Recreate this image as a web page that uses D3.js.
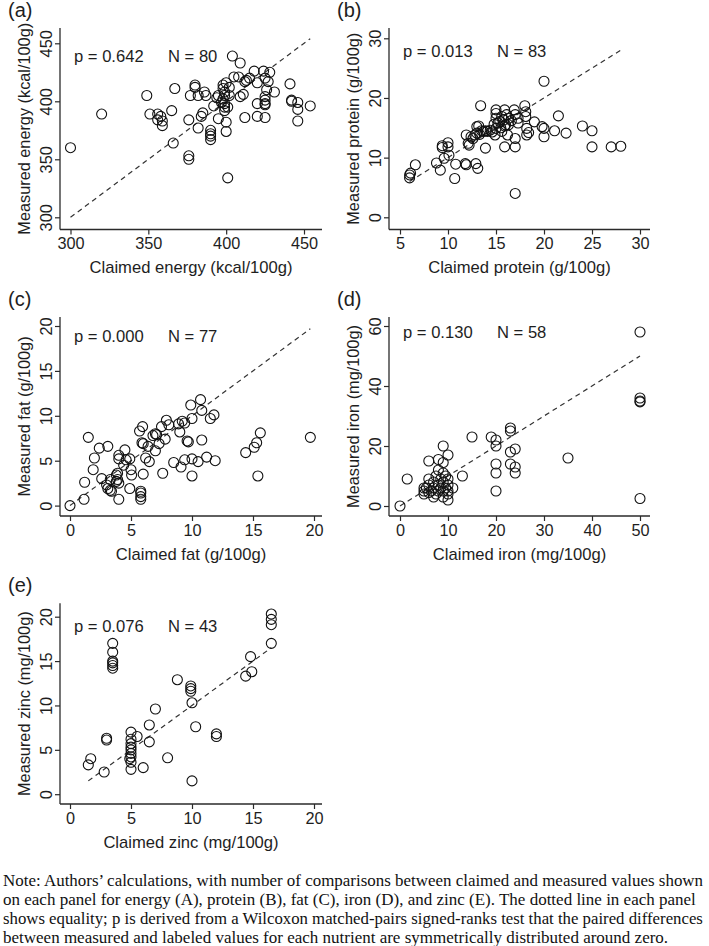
<!DOCTYPE html>
<html><head><meta charset="utf-8">
<script src="https://cdn.jsdelivr.net/npm/d3@7"></script>
<style>
body{margin:0;background:#fff}
svg{display:block}
text{font-family:"Liberation Sans",Arial,sans-serif;fill:#1e1e1e}
.note{font-family:"Liberation Serif","Times New Roman",serif;fill:#111}
</style>
</head><body>
<svg id="chart" width="709" height="946"></svg>
<script>
// ---------- data: [claimed, measured] ----------
const energyPoints = [[300,360],[320,389],[349,405],[351,389],[356,389],[358,387],[356,384],[359,383],[359,379],[365,392],[367,411],[366,364],[376,384],[380,414],[380,412],[377,405],[382,405],[386,408],[387,405],[385,390],[384,387],[382,377],[390,375],[390,372],[390,370],[390,367],[376,353],[376,350],[392,396],[394,403],[395,385],[398,414],[398,411],[399,408],[399,405],[398,402],[399,398],[399,395],[399,392],[400,416],[400,382],[400,374],[401,334],[404,439],[409,433],[405,421],[408,421],[409,404],[411,406],[412,386],[412,417],[415,420],[418,426],[420,416],[420,398],[420,387],[424,426],[425,420],[428,425],[426,410],[425,401],[425,398],[425,397],[425,386],[431,408],[441,415],[442,401],[442,400],[446,399],[446,393],[446,383],[454,396],[427,417],[413,418],[395,405],[402,405],[401,395],[402,412],[397,399],[425,404]];
const proteinPoints = [[6,7.1],[6,6.6],[6.1,7.4],[6.6,8.8],[8.8,9.1],[9.2,7.9],[9.4,11.7],[9.4,12],[9.6,9.9],[10,12.5],[10,11.8],[10.1,10.4],[10.8,8.9],[10.7,6.5],[11.8,9.0],[11.9,8.8],[11.9,13.8],[12.1,12.4],[12.2,12.1],[12.4,13.5],[12.8,13.8],[13,14.1],[12.9,9.0],[13.1,8.2],[13,15.2],[13.2,15.3],[13.4,18.7],[13.5,14.5],[13.7,14.4],[13.9,14.5],[14.1,14.4],[13.9,11.6],[14.4,14.6],[15,18],[15,17.4],[15,16.6],[15,14.9],[14.9,13.8],[15.2,15.8],[15.4,16.1],[15.6,16.9],[15.8,16.3],[15.9,15.3],[15.9,18],[15.9,11.8],[16.2,13.8],[16,15.5],[16.3,15.5],[16.3,16.6],[16.9,18],[17,17.2],[17,13.2],[17,11.8],[17,4.0],[18,18.7],[18.1,17.7],[18.1,16.9],[18.2,14.9],[18.4,14.2],[18.2,13.8],[19,16],[19.8,15.2],[20,22.8],[20,14.9],[20,13.5],[21.1,14.5],[21.5,17],[22.3,14.1],[24,15.3],[25,14.5],[25,11.8],[27,11.8],[28,11.9],[17.3,16.6],[17.3,15.8],[16.6,16.2],[15.5,15],[14.8,15.6],[16.1,17.2],[12.6,13.2],[13.3,13.9],[15.6,14.4],[14.6,14.3]];
const fatPoints = [[1.5,7.6],[2,5.3],[2.4,6.4],[3.1,6.6],[4,5.6],[4,5.2],[4.5,6.2],[5.7,8.3],[5.95,8.8],[5.9,7.0],[6,6.9],[6.2,5.3],[6.4,6.6],[6.8,7.8],[7,8],[7.1,7.9],[7,6.1],[7.3,6.9],[7.5,8.8],[7.8,7.4],[7.9,9.5],[8.1,9.0],[8.9,9.1],[9.0,8.2],[9.2,9.4],[9.4,9.2],[9.6,7.2],[9.7,7.1],[10,9.7],[9.9,11.2],[10.7,11.8],[10.8,10.6],[10.8,7.3],[11.5,9.7],[11.8,10.1],[11.2,5.4],[9.4,5.1],[10,5.2],[10.5,4.9],[8.5,4.8],[11.9,5.0],[14.4,5.9],[15.1,6.5],[15.3,7.0],[15.6,8.1],[19.7,7.6],[4.9,5.2],[0,0],[1.15,0.7],[1.2,2.6],[1.9,4.0],[2.6,3.0],[3.0,2.3],[3.1,1.9],[3.3,1.7],[3.4,1.6],[3.3,2.9],[3.8,3.4],[3.9,2.9],[3.8,2.7],[4,2.5],[3.9,3.6],[4,0.7],[4.4,4.5],[4.6,5.1],[5,4],[5.05,3.4],[4.9,1.9],[5.8,1.4],[5.8,1.0],[5.8,0.7],[5.8,1.6],[6,3.5],[6.5,4.9],[7.6,3.6],[9.1,4.3],[10,3.3],[15.4,3.3]];
const ironPoints = [[0,0],[1.5,9],[5,4],[5,5],[5.5,6],[6,4.5],[6,7],[6.5,5],[7,6],[7,8],[7.5,4],[7.5,10],[8,5],[8,7],[8,12],[8.5,6],[8.5,9],[9,3],[9,5],[9,8],[9,11],[9.5,6],[9.5,10],[10,4],[10,7],[10,9],[10,5],[11,6],[10,17],[8,15.5],[9,14.5],[9,20],[6,15],[13,10],[15,23],[19,23],[20,22],[20,20],[20,14],[20,11],[20,5],[23,26],[23,25],[23,18],[24,19],[23,14],[24,13],[24,11],[35,16],[50,58],[50,36],[50,35],[50,34.7],[50,2.5],[5,6],[7,3],[6,9],[10,2]];
const zincPoints = [[1.5,3.3],[1.7,4],[2.8,2.5],[3,6.3],[3,6.1],[3.5,17],[3.5,16],[3.5,15],[3.5,14.8],[3.5,14.5],[3.5,14.2],[5,7],[5,6.2],[5,5.7],[5,5.3],[5,5],[5,4.6],[5,4.2],[5,3.6],[5,2.8],[5.5,6.5],[6,3],[6.5,7.8],[6.5,5.9],[7,9.6],[8,4.1],[8.8,12.9],[9.9,12.2],[9.9,11.9],[9.9,11.6],[10,10.3],[10,1.5],[10.3,7.6],[12,6.8],[12,6.5],[14.4,13.3],[14.9,13.8],[14.8,15.5],[16.5,17],[16.5,19.1],[16.5,19.7],[16.5,20.3],[4.9,4.0]];

// ---------- tick labels / texts ----------
const energyTicks = [300,350,400,450];
const proteinXTicks = [5,10,15,20,25,30];
const proteinYTicks = [0,10,20,30];
const fatTicks = [0,5,10,15,20];
const ironXTicks = [0,10,20,30,40,50];
const ironYTicks = [0,20,40,60];
const zincTicks = [0,5,10,15,20];
const panelLabels = ["(a)","(b)","(c)","(d)","(e)"];
const xTitles = ["Claimed energy (kcal/100g)","Claimed protein (g/100g)","Claimed fat (g/100g)","Claimed iron (mg/100g)","Claimed zinc (mg/100g)"];
const yTitles = ["Measured energy (kcal/100g)","Measured protein (g/100g)","Measured fat (g/100g)","Measured iron (mg/100g)","Measured zinc (mg/100g)"];
const pValues = ["p = 0.642","p = 0.013","p = 0.000","p = 0.130","p = 0.076"];
const nValues = ["N = 80","N = 83","N = 77","N = 58","N = 43"];
const noteLines = [
 "Note: Authors\u2019 calculations, with number of comparisons between claimed and measured values shown",
 "on each panel for energy (A), protein (B), fat (C), iron (D), and zinc (E). The dotted line in each panel",
 "shows equality; p is derived from a Wilcoxon matched-pairs signed-ranks test that the paired differences",
 "between measured and labeled values for each nutrient are symmetrically distributed around zero."
];

// ---------- layout ----------
const panels = [
 {data:energyPoints, xt:energyTicks, yt:energyTicks, xd:[300,450], yd:[300,450], ax:60, top:28, bot:229.5, right:322, xr:[70.5,304], yr:[217.3,43.3], ann:61.7},
 {data:proteinPoints, xt:proteinXTicks, yt:proteinYTicks, xd:[5,30], yd:[0,30], ax:389, top:28, bot:229.5, right:650, xr:[400,640], yr:[217.3,38.3], ann:56.7},
 {data:fatPoints, xt:fatTicks, yt:fatTicks, xd:[0,20], yd:[0,20], ax:60, top:317, bot:516, right:322, xr:[70,314], yr:[505.6,326], ann:341.7},
 {data:ironPoints, xt:ironXTicks, yt:ironYTicks, xd:[0,50], yd:[0,60], ax:389, top:317, bot:516, right:650, xr:[400,640], yr:[506,326], ann:338.3},
 {data:zincPoints, xt:zincTicks, yt:zincTicks, xd:[0,20], yd:[0,20], ax:60, top:603.3, bot:804, right:322, xr:[70,314], yr:[794.2,616.7], ann:631.7}
];

const svg = d3.select("#chart");
const axisColor = "#2a2a2a";
const fs = 16.3;

panels.forEach((p,i)=>{
  const g = svg.append("g");
  const x = d3.scaleLinear().domain(p.xd).range(p.xr);
  const y = d3.scaleLinear().domain(p.yd).range(p.yr);

  const xa = g.append("g").attr("transform",`translate(0,${p.bot})`)
    .call(d3.axisBottom(x).tickValues(p.xt).tickFormat(d3.format("d")).tickSize(5).tickPadding(3).tickSizeOuter(0));
  xa.select(".domain").remove();
  xa.selectAll("line").attr("stroke",axisColor).attr("stroke-width",1.2);
  xa.selectAll("text").attr("font-size",fs).attr("font-family",null).attr("fill","#1e1e1e");
  g.append("line").attr("x1",p.ax).attr("x2",p.right).attr("y1",p.bot).attr("y2",p.bot).attr("stroke",axisColor).attr("stroke-width",1.3);

  const ya = g.append("g").attr("transform",`translate(${p.ax},0)`)
    .call(d3.axisLeft(y).tickValues(p.yt).tickFormat(d3.format("d")).tickSize(5).tickPadding(3).tickSizeOuter(0));
  ya.select(".domain").remove();
  ya.selectAll("line").attr("stroke",axisColor).attr("stroke-width",1.2);
  ya.selectAll(".tick text").attr("font-size",fs).attr("font-family",null).attr("fill","#1e1e1e")
    .attr("x",null).attr("dy",null)
    .attr("text-anchor","middle")
    .attr("transform","translate(-8,0) rotate(-90)");
  g.append("line").attr("x1",p.ax).attr("x2",p.ax).attr("y1",p.top).attr("y2",p.bot).attr("stroke",axisColor).attr("stroke-width",1.3);

  g.append("text").attr("x",(p.ax+p.right)/2).attr("y",p.bot+43.5).attr("text-anchor","middle").attr("font-size",16.6).text(xTitles[i]);
  g.append("text").attr("transform",`translate(${p.ax-30.5},${(p.top+p.bot)/2}) rotate(-90)`).attr("text-anchor","middle").attr("font-size",fs).text(yTitles[i]);
  g.append("text").attr("x",p.ax-52).attr("y",p.top-11.5).attr("font-size",20).text(panelLabels[i]);

  g.append("text").attr("x",p.ax+14).attr("y",p.ann).attr("font-size",16.6).text(pValues[i]);
  g.append("text").attr("x",p.ax+108).attr("y",p.ann).attr("font-size",16.6).text(nValues[i]);

  const ext = d3.extent(p.data, d=>d[0]);
  g.append("line").attr("x1",x(ext[0])).attr("y1",y(ext[0])).attr("x2",x(ext[1])).attr("y2",y(ext[1]))
    .attr("stroke","#333").attr("stroke-width",1.2).attr("stroke-dasharray","5,4");

  g.append("g").selectAll("circle").data(p.data).join("circle")
    .attr("cx",d=>x(d[0])).attr("cy",d=>y(d[1])).attr("r",5)
    .attr("fill","none").attr("stroke","#111").attr("stroke-width",1.1);
});

svg.append("g").selectAll("text").data(noteLines).join("text")
  .attr("class","note").attr("x",3).attr("y",(d,i)=>886+i*19).attr("font-size",17).text(d=>d)
  .each(function(){
    const w = this.getComputedTextLength();
    if(w>700){ d3.select(this).attr("font-size", (17*700/w).toFixed(2)); }
  });
</script>
</body></html>
